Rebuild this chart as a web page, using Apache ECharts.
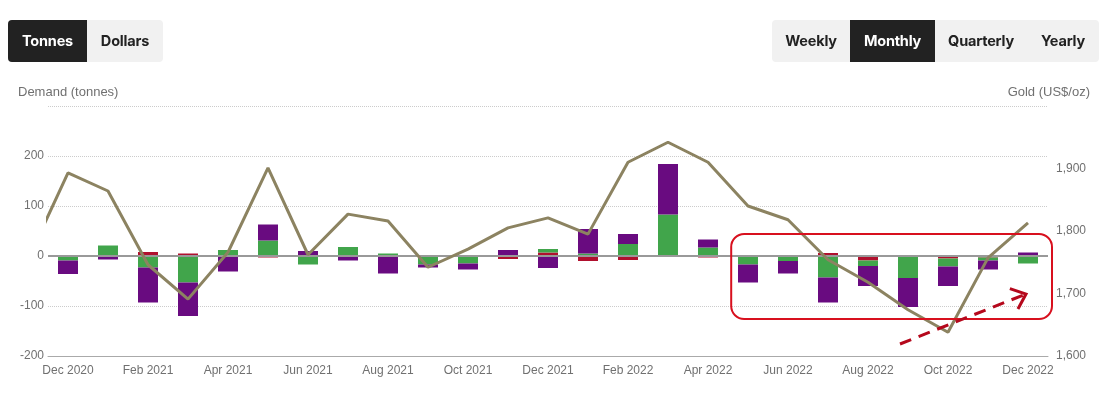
<!DOCTYPE html>
<html>
<head>
<meta charset="utf-8">
<script src="https://cdn.jsdelivr.net/npm/echarts@6/dist/echarts.min.js"></script>
<style>
    html, body { margin: 0; padding: 0; background: #fff; }
    .wrap { position: relative; width: 1108px; height: 398px; }
    #chart { position: absolute; left: 0; top: 0; width: 1108px; height: 398px; }
    .btns { position: absolute; top: 20px; height: 42px; display: flex; background: #f1f1f1; border-radius: 4px; overflow: hidden; z-index: 2; }
    .btns div { height: 42px; line-height: 42px; text-align: center; font-family: Inter, sans-serif; font-weight: 700; font-size: 14.5px; color: #222; letter-spacing: -0.2px; }
    .btns div.on { background: #222; color: #fff; }
</style>
</head>
<body>
<div class="wrap">
    <div id="chart"></div>
    <div class="btns" style="left:8px">
        <div class="on" style="width:79px">Tonnes</div>
        <div style="width:76px">Dollars</div>
    </div>
    <div class="btns" style="left:772px">
        <div style="width:78px">Weekly</div>
        <div class="on" style="width:85px">Monthly</div>
        <div style="width:92px">Quarterly</div>
        <div style="width:72px">Yearly</div>
    </div>
</div>
<script>
    const months = ['Dec 2020', 'Jan 2021', 'Feb 2021', 'Mar 2021', 'Apr 2021', 'May 2021', 'Jun 2021',
        'Jul 2021', 'Aug 2021', 'Sep 2021', 'Oct 2021', 'Nov 2021', 'Dec 2021', 'Jan 2022', 'Feb 2022',
        'Mar 2022', 'Apr 2022', 'May 2022', 'Jun 2022', 'Jul 2022', 'Aug 2022', 'Sep 2022', 'Oct 2022',
        'Nov 2022', 'Dec 2022']
    // tonnes per month, three stacked groups
    const redVals = [-2, 0, 8, 5, 0, -3, -2, 0, 0, -2, -2, -6, 7, -10, -8, -2, -3, -1, -1, 6, -9, -2, -5, -3, 0]
    const greenVals = [-7, 21, -23, -53, 12, 31, -15, 18, 5, -15, -13, 0, 7, 5, 24, 83, 17, -16, -9, -43, -11, -42, -16, -6, -15]
    const purpleVals = [-27, -7, -70, -67, -31, 32, 10, -9, -35, -6, -12, 12, -24, 49, 20, 101, 16, -36, -25, -50, -40, -58, -39, -18, 7]
    // gold price, first value is Nov 2020 (one month before the first bar)
    const goldPrice = [1755, 1893, 1864, 1746, 1691, 1766, 1901, 1762, 1827, 1816, 1742, 1771, 1805, 1821,
        1795, 1910, 1942, 1910, 1840, 1818, 1754, 1718, 1674, 1638, 1757, 1813]
    const goldStart = -1

    const chart = echarts.init(document.getElementById('chart'))
    const labelColor = '#707070'
    const font = 'Liberation Sans, Arial, sans-serif'

    const barSeries = (name, color, vals) => ({
        name: name,
        type: 'bar',
        stack: 'demand',
        barWidth: 20,
        xAxisIndex: 0,
        yAxisIndex: 0,
        itemStyle: { color: color },
        data: vals
    })

    const purple = barSeries('Purple', '#690b80', purpleVals)
    purple.markLine = {
        silent: true,
        symbol: 'none',
        label: { show: false },
        lineStyle: { color: '#999', type: 'solid', width: 2 },
        data: [{ yAxis: 0 }]
    }

    const options = {
        animation: false,
        title: [
            { text: 'Demand (tonnes)', left: 18, top: 86, padding: 0, textStyle: { fontFamily: font, fontSize: 13, fontWeight: 'normal', color: labelColor } },
            { text: 'Gold (US$/oz)', right: 18, top: 86, padding: 0, textStyle: { fontFamily: font, fontSize: 13, fontWeight: 'normal', color: labelColor } }
        ],
        grid: { left: 48, right: 60, top: 106, bottom: 42 },
        xAxis: [
            {
                type: 'category',
                data: months,
                axisLine: { onZero: false, lineStyle: { color: '#aaa', width: 1 } },
                axisTick: { alignWithLabel: true, interval: 1, length: 5, lineStyle: { color: '#ddd' } },
                axisLabel: { interval: 1, color: labelColor, fontFamily: font, fontSize: 12, margin: 9 }
            },
            {
                type: 'value',
                min: -0.5,
                max: months.length - 0.5,
                show: false,
                splitLine: { show: false }
            }
        ],
        yAxis: [
            {
                type: 'value',
                min: -200,
                max: 300,
                interval: 100,
                axisLine: { show: false },
                axisTick: { show: false },
                axisLabel: { showMaxLabel: false, color: labelColor, fontFamily: font, fontSize: 12, margin: 4 },
                splitLine: { lineStyle: { color: '#ccc', type: 'dotted' } }
            },
            {
                type: 'value',
                min: 1600,
                max: 2000,
                interval: 100,
                position: 'right',
                axisLine: { show: false },
                axisTick: { show: false },
                axisLabel: { showMaxLabel: false, color: labelColor, fontFamily: font, fontSize: 12, margin: 8 },
                splitLine: { show: false }
            }
        ],
        series: [
            barSeries('Red', '#b0102e', redVals),
            barSeries('Green', '#41a54b', greenVals),
            purple,
            {
                name: 'Gold price',
                type: 'line',
                xAxisIndex: 1,
                yAxisIndex: 1,
                symbol: 'none',
                clip: true,
                z: 5,
                lineStyle: { color: '#8c8361', width: 3 },
                data: goldPrice.map((v, i) => [goldStart + i, v])
            }
        ]
    }
    chart.setOption(options)

    // annotation: rounded box round the last months and a dashed arrow
    const px = (x, y) => chart.convertToPixel({ xAxisIndex: 1, yAxisIndex: 0 }, [x, y])
    const boxA = px(16.58, 44)
    const boxB = px(24.6, -126)
    const arrA = px(20.8, -176)
    const arrB = px(23.95, -76)
    const ang = Math.atan2(arrB[1] - arrA[1], arrB[0] - arrA[0])
    const head = 17
    const wing = a => [arrB[0] - head * Math.cos(ang + a), arrB[1] - head * Math.sin(ang + a)]

    chart.setOption({
        graphic: [
            {
                type: 'rect',
                z: 10,
                shape: { x: boxA[0], y: boxA[1], width: boxB[0] - boxA[0], height: boxB[1] - boxA[1], r: 13 },
                style: { fill: 'none', stroke: '#d8101e', lineWidth: 2 }
            },
            {
                type: 'polyline',
                z: 10,
                shape: { points: [arrA, arrB] },
                style: { stroke: '#b5081c', lineWidth: 3, lineDash: [12, 8], fill: 'none' }
            },
            {
                type: 'polyline',
                z: 10,
                shape: { points: [wing(0.7), arrB, wing(-0.7)] },
                style: { stroke: '#b5081c', lineWidth: 3, fill: 'none' }
            }
        ]
    })
</script>
</body>
</html>
